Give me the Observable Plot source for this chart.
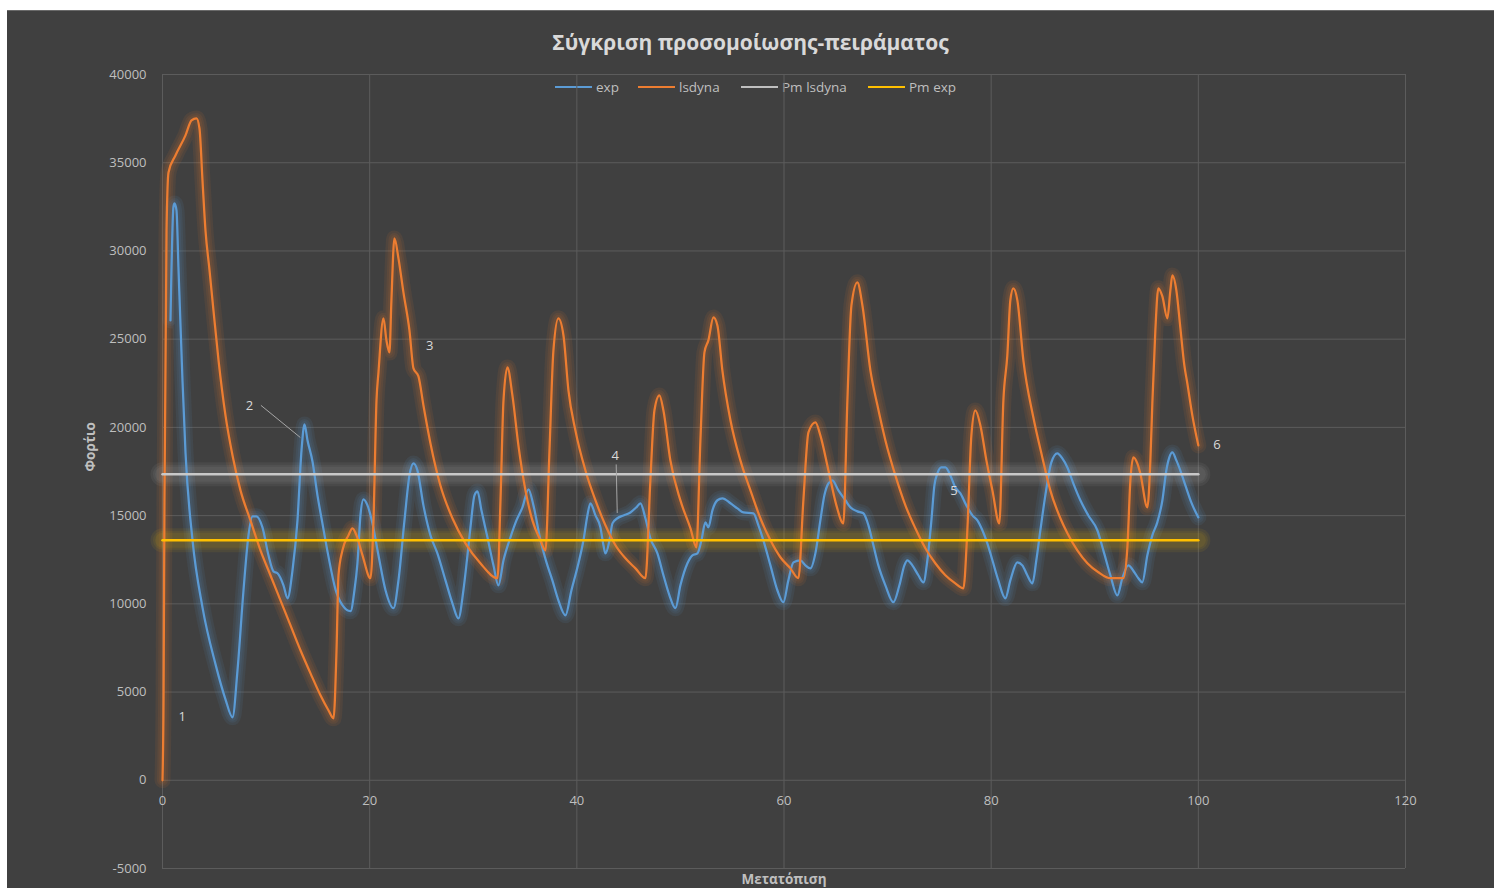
<!DOCTYPE html>
<html>
<head>
<meta charset="utf-8">
<script src="https://cdn.jsdelivr.net/npm/d3@7"></script>
<script src="https://cdn.jsdelivr.net/npm/@observablehq/plot@0.6"></script>
<style>
  html, body { margin: 0; padding: 0; background: #ffffff; width: 1494px; height: 888px; overflow: hidden; }
  #chart { position: absolute; left: 7px; top: 10px; width: 1487px; height: 878px; background: #404040; border-top: 1px solid #6a6a6a; box-sizing: border-box; font-family: "Open Sans", "Noto Sans", sans-serif; }
  #title { position: absolute; left: 0; top: 17px; width: 100%; text-align: center; font-size: 21px; font-weight: bold; color: #d9d9d9; line-height: 28px; }
  .leg { position: absolute; top: 67px; height: 18px; display: flex; align-items: center; font-size: 13.5px; color: #bfbfbf; }
  .leg span.sw { display: inline-block; width: 37px; height: 2.5px; margin-right: 4px; }
  #plot { position: absolute; left: 0; top: 49px; }
</style>
</head>
<body>
<div id="chart">
  <div id="title">Σύγκριση προσομοίωσης-πειράματος</div>
  <div class="leg" style="left:548px"><span class="sw" style="background:#5b9bd5"></span>exp</div>
  <div class="leg" style="left:631px"><span class="sw" style="background:#ed7d31"></span>lsdyna</div>
  <div class="leg" style="left:734px"><span class="sw" style="background:#bfbfbf"></span>Pm lsdyna</div>
  <div class="leg" style="left:861px"><span class="sw" style="background:#ffc000"></span>Pm exp</div>
  <div id="plot"></div>
</div>
<script>
// ---- data ----
const expX = [0.77,1.06,1.16,1.35,1.54,1.93,2.22,2.90,3.86,5.12,6.08,6.76,7.24,7.82,8.30,8.69,9.07,9.65,10.23,10.71,11.10,11.68,12.07,12.55,13.03,13.42,13.71,14.0,14.48,14.96,15.44,16.02,16.70,17.37,18.15,18.53,18.82,19.11,19.40,19.79,20.27,20.85,21.53,22.30,22.78,23.36,23.84,24.23,24.61,25.19,25.87,26.54,27.32,27.99,28.57,29.05,29.44,29.73,30.12,30.41,30.79,31.37,31.95,32.43,32.92,33.59,34.17,34.75,35.33,35.81,36.49,37.07,37.64,38.22,38.90,39.48,40.06,40.64,41.02,41.31,41.80,42.28,42.57,42.76,43.15,43.44,43.92,44.50,45.17,45.75,46.14,46.62,47.10,47.78,48.36,48.94,49.52,50.0,50.68,51.16,51.64,52.03,52.41,52.70,53.09,53.57,54.05,54.83,55.50,56.08,57.05,57.53,58.01,58.69,59.36,59.94,60.42,60.91,61.58,62.07,62.55,63.03,63.51,63.90,64.29,64.67,65.25,65.93,66.41,67.08,67.66,68.15,68.63,69.11,69.79,70.56,71.14,71.62,71.91,72.39,72.97,73.46,73.84,74.23,74.52,74.81,75.19,75.58,76.06,76.54,77.03,77.61,78.19,78.67,79.15,79.63,80.12,80.69,81.37,81.85,82.53,83.01,83.49,83.98,84.36,84.75,85.23,85.81,86.39,86.87,87.36,87.93,88.61,89.38,90.25,90.83,91.51,92.18,92.66,93.24,93.82,94.21,94.59,95.08,95.56,96.04,96.53,96.91,97.20,97.49,97.88,98.26,98.75,99.32,100];
const expY = [26060,32520,32690,32300,29070,22660,18580,13600,9800,6570,4590,3570,6230,10770,13880,14960,14960,14330,12750,11840,11730,11050,10310,11900,14730,18700,20170,19260,18070,16150,14560,12690,10820,9920,9580,10770,12300,15010,15920,15580,14560,12750,10770,9750,11330,14730,17280,17960,17560,15580,13880,12860,11330,10030,9180,10770,12750,14330,16150,16370,15300,13770,12180,11050,12470,13770,14730,15470,16490,15580,13600,12350,11330,10200,9350,10770,12070,13600,15010,15700,15010,14330,13320,12860,13600,14560,14850,15010,15180,15470,15700,14850,13710,12860,11620,10480,9750,11050,12300,12750,12860,13600,14620,14330,15300,15870,15980,15700,15410,15180,15130,14450,13600,12180,10770,10090,11330,12350,12470,12180,12010,12860,14730,16150,16830,17000,16430,15870,15470,15240,15130,14450,13320,12180,11050,10090,11050,12180,12470,12180,11620,11220,12470,14730,16710,17390,17730,17730,17280,16600,16260,15580,15010,14730,14170,13430,12470,11330,10310,11330,12350,12180,11620,11160,12470,14170,16150,18020,18530,18240,17730,16830,15870,15010,14170,13030,11620,10480,11450,12180,11790,11450,11220,12750,13880,14620,15870,17560,18300,18580,18130,17560,16710,15750,14900];

const lsX = [0,0.10,0.19,0.39,0.58,1.25,2.22,2.80,3.28,3.57,3.86,4.15,4.54,4.92,5.41,6.08,6.76,7.53,8.49,9.46,10.42,11.39,12.36,13.32,14.29,15.25,16.02,16.51,16.80,16.99,17.37,17.95,18.34,18.73,19.31,20.08,20.37,20.66,20.85,21.33,21.62,21.91,22.10,22.39,22.78,23.26,23.84,24.23,24.71,25.19,25.87,26.83,27.99,29.25,30.69,32.34,32.63,32.92,33.30,33.78,34.36,35.04,35.71,36.49,36.97,37.36,37.74,38.22,38.71,39.19,39.86,40.83,41.80,42.76,43.73,44.69,45.66,46.62,47.10,47.49,47.97,48.36,49.03,50.0,50.97,51.54,51.93,52.32,52.70,53.19,53.57,54.05,54.83,55.79,56.76,57.72,58.69,59.65,60.62,61.39,61.87,62.36,63.03,63.51,64.29,65.06,65.73,66.12,66.51,67.08,67.57,68.34,69.02,69.79,70.75,71.72,72.68,73.65,74.61,75.58,76.54,77.32,77.70,78.09,78.47,78.96,79.54,80.12,80.79,81.18,81.56,81.85,82.14,82.53,83.11,84.07,84.94,85.71,86.68,87.36,88.32,89.29,90.35,91.51,92.76,93.15,93.44,93.73,94.11,94.40,95.08,95.37,95.56,95.85,96.14,96.53,97.01,97.30,97.49,97.88,98.26,98.65,98.94,99.42,100];
const lsY = [0,4530,15860,31160,34450,35410,36550,37400,37510,36940,34000,31160,28900,26630,23800,20680,18410,16430,14730,13030,11620,10200,8780,7370,6060,4820,3970,3510,7370,11620,13030,13880,14280,13880,12750,11450,14730,21530,23120,26180,24930,24250,27200,30710,29580,27650,25500,23340,22890,21250,19090,16710,14850,13430,12300,11450,15860,21530,23400,21810,18980,16430,14730,13600,13030,18700,24360,26180,25210,22100,19830,17560,15860,14450,13320,12580,12010,11450,17000,20960,21810,20960,18130,15860,14280,13200,19260,24250,24930,26230,25780,23230,20400,18130,16430,14850,13600,12640,12010,11450,15860,19720,20280,19550,17560,15580,14560,21530,26910,28220,26910,23230,21250,19260,17280,15580,14280,13150,12300,11620,11160,10880,14170,19550,20960,20110,18130,16430,14560,21530,24080,27200,27880,27200,23800,20570,18300,16430,14850,14000,13030,12300,11790,11450,11450,13200,17000,18300,17960,17390,15470,18130,21360,25500,27880,27420,26180,27760,28610,27760,25670,23510,22490,20680,18980];

const pmLsdyna = 17340;
const pmExp = 13600;
const pmX = [0, 100];

const seriesNames = ["exp", "lsdyna", "Pm lsdyna", "Pm exp"];
const seriesColors = ["#5b9bd5", "#ed7d31", "#c8c8c8", "#ffc000"];

const xTicks = [0, 20, 40, 60, 80, 100, 120];
const yTicks = [-5000, 0, 5000, 10000, 15000, 20000, 25000, 30000, 35000, 40000];

const noteText = ["1", "2", "3", "4", "5", "6"];
const noteX = [1.9, 8.4, 25.8, 43.7, 76.4, 101.8];
const noteY = [3620, 21250, 24650, 18400, 16430, 19000];
const leaderX1 = [9.5, 43.8];
const leaderY1 = [21250, 17900];
const leaderX2 = [13.3, 43.9];
const leaderY2 = [19430, 15150];

// ---- build tables ----
const expData = expX.map((x, i) => ({x, y: expY[i]}));
const lsData = lsX.map((x, i) => ({x, y: lsY[i]}));
const pmLsData = pmX.map(x => ({x, y: pmLsdyna}));
const pmExpData = pmX.map(x => ({x, y: pmExp}));
const notes = noteText.map((t, i) => ({t, x: noteX[i], y: noteY[i]}));
const leaders = leaderX1.map((x1, i) => ({x1, y1: leaderY1[i], x2: leaderX2[i], y2: leaderY2[i]}));

const all = [expData, lsData, pmLsData, pmExpData];

const marks = [
  Plot.ruleY(yTicks, {stroke: "#5c5c5c", strokeWidth: 1}),
  Plot.ruleX(xTicks, {stroke: "#5c5c5c", strokeWidth: 1}),
];
// soft glow: stacked translucent wide strokes
const glowWidths = [16, 11, 7];
all.forEach((d, i) => {
  glowWidths.forEach(w => {
    const mean = i >= 2;
    marks.push(Plot.line(d, {x: "x", y: "y", stroke: seriesColors[i], strokeWidth: mean ? w + 8 : w, strokeOpacity: mean ? 0.07 : 0.09, curve: "monotone-x"}));
  });
});
// lines
all.forEach((d, i) => {
  marks.push(Plot.line(d, {x: "x", y: "y", stroke: seriesColors[i], strokeWidth: i < 2 ? 2.25 : 2.5, curve: "monotone-x"}));
});
marks.push(
  Plot.link(leaders, {x1: "x1", y1: "y1", x2: "x2", y2: "y2", stroke: "#a6a6a6", strokeWidth: 1}),
  Plot.text(notes, {x: "x", y: "y", text: "t", fill: "#d9d9d9", fontSize: 13}),
  Plot.text(xTicks, {x: d => d, y: 0, dy: 21, text: d => String(d), fill: "#bfbfbf", fontSize: 13}),
  Plot.text(["Μετατόπιση"], {frameAnchor: "bottom", dy: 15, text: d => d, fill: "#bfbfbf", fontSize: 13.5, fontWeight: "bold"}),
  Plot.text(["Φορτ΄ιο"], {frameAnchor: "left", dx: -72, rotate: -90, text: d => d, fill: "#bfbfbf", fontSize: 13.5, fontWeight: "bold"})
);

const chart = Plot.plot({
  width: 1487,
  height: 828,
  marginLeft: 155,
  marginRight: 89,
  marginTop: 14,
  marginBottom: 20,
  style: {background: "transparent", color: "#bfbfbf", fontFamily: "'Open Sans', 'Noto Sans', sans-serif", fontSize: "13px", overflow: "visible"},
  x: {domain: [0, 120], axis: null},
  y: {domain: [-5000, 40000], ticks: yTicks, tickSize: 0, tickPadding: 16, tickFormat: d => String(d), label: null},
  marks
});
document.getElementById("plot").appendChild(chart);
</script>
</body>
</html>
